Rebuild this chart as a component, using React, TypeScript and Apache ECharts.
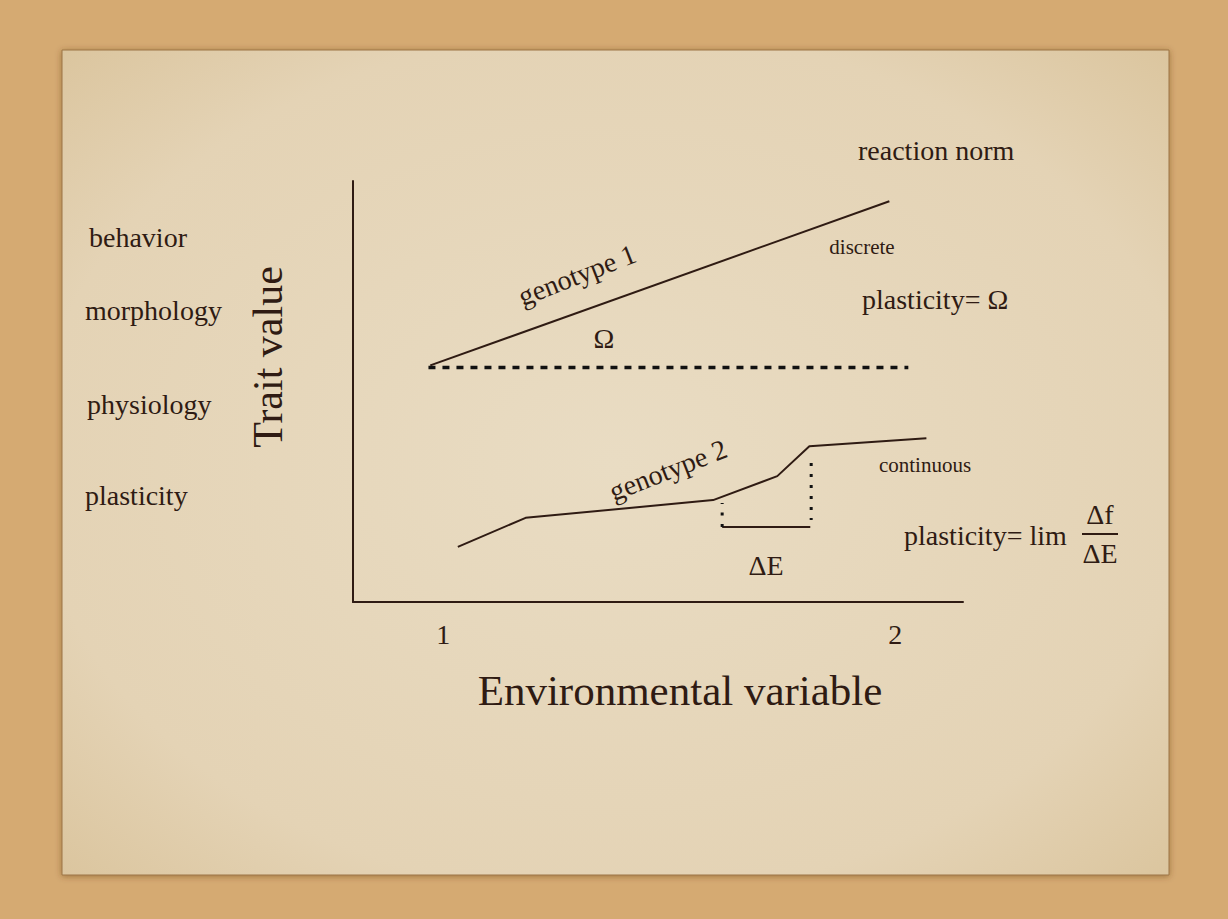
import React, { useEffect, useRef } from "react";
import * as echarts from "echarts";

// ---- data (environment value, trait value) ----
const genotype1Env = [0.971, 1.987];
const genotype1Trait = [5.62, 9.52];

const baselineEnv = [0.967, 2.029];
const baselineTrait = [5.57, 5.57];

const genotype2Env = [1.032, 1.182, 1.597, 1.739, 1.81, 2.069];
const genotype2Trait = [1.31, 2.0, 2.42, 2.99, 3.7, 3.89];

const deltaEEnv = [1.617, 1.812];
const deltaETrait = [1.78, 1.78];

const dotLeftEnv = [1.617, 1.617];
const dotLeftTrait = [1.78, 2.35];
const dotRightEnv = [1.814, 1.814];
const dotRightTrait = [3.3, 1.95];

const xTickValues = [1, 2];

const leftLabels = ["behavior", "morphology", "physiology", "plasticity"];
const leftLabelY = [237, 310, 404, 495];
const leftLabelX = [89, 85, 87, 85];

const FONT = '"Liberation Serif", "Times New Roman", Times, serif';
const INK = "#2f1b13";

const zip = (a: number[], b: number[]) => a.map((v, i) => [v, b[i]]);

export default function App() {
  const ref = useRef<HTMLDivElement>(null);
  useEffect(() => {
    const chart = echarts.init(ref.current!, null, { renderer: "svg" });
    const txt = (
      text: string,
      x: number,
      y: number,
      size: number,
      align: string = "left",
      rotation = 0
    ) => ({
      type: "text",
      x,
      y,
      rotation,
      z: 100,
      style: {
        text,
        fill: INK,
        font: `${size}px ${FONT}`,
        align,
        verticalAlign: "middle",
      },
    });
    const lineSeries = (name: string, xs: number[], ys: number[], style: any) => ({
      type: "line",
      name,
      data: zip(xs, ys),
      showSymbol: false,
      symbol: "none",
      silent: true,
      lineStyle: style,
      z: 5,
    });
    chart.setOption({
      animation: false,
      backgroundColor: "#d5aa72",
      grid: { left: 353, top: 181, width: 610, height: 421 },
      xAxis: {
        type: "value",
        min: 0.8,
        max: 2.15,
        axisLine: { show: true, lineStyle: { color: INK, width: 2 } },
        axisTick: { show: false },
        splitLine: { show: false },
        axisLabel: {
          customValues: xTickValues,
          color: INK,
          fontSize: 28,
          fontFamily: FONT,
          margin: 18,
        },
      },
      yAxis: {
        type: "value",
        min: 0,
        max: 10,
        axisLine: { show: true, onZero: false, lineStyle: { color: INK, width: 2 } },
        axisTick: { show: false },
        splitLine: { show: false },
        axisLabel: { show: false },
      },
      graphic: [
        {
          type: "rect",
          z: -10,
          shape: { x: 62, y: 50, width: 1107, height: 825 },
          style: {
            fill: {
              type: "radial",
              x: 0.5,
              y: 0.5,
              r: 0.75,
              colorStops: [
                { offset: 0, color: "#e9dcc3" },
                { offset: 0.7, color: "#e4d3b5" },
                { offset: 1, color: "#d9c299" },
              ],
            },
            stroke: "#9c7444",
            lineWidth: 1,
            shadowBlur: 6,
            shadowColor: "rgba(90,50,15,0.45)",
            shadowOffsetY: 1,
          },
        },
        ...leftLabels.map((t, i) => txt(t, leftLabelX[i], leftLabelY[i], 28)),
        txt("Trait value", 268, 357, 42, "center", Math.PI / 2),
        txt("Environmental variable", 680, 690, 43, "center"),
        txt("reaction norm", 858, 150, 28),
        txt("genotype 1", 577, 275, 28, "center", 0.37),
        txt("Ω", 604, 338, 28, "center"),
        txt("discrete", 862, 247, 21, "center"),
        txt("plasticity= Ω", 862, 299, 28),
        txt("genotype 2", 668, 470, 28, "center", 0.37),
        txt("continuous", 925, 465, 21, "center"),
        txt("ΔE", 766, 565, 28, "center"),
        txt("plasticity= lim", 904, 535, 28),
        txt("Δf", 1100, 514, 28, "center"),
        txt("ΔE", 1100, 553, 28, "center"),
        {
          type: "line",
          z: 100,
          shape: { x1: 1082, y1: 534, x2: 1118, y2: 534 },
          style: { stroke: INK, lineWidth: 2 },
        },
      ],
      series: [
        lineSeries("genotype 1", genotype1Env, genotype1Trait, { color: INK, width: 2 }),
        lineSeries("baseline", baselineEnv, baselineTrait, {
          color: "#111111",
          width: 3.5,
          type: [7, 7],
        }),
        lineSeries("genotype 2", genotype2Env, genotype2Trait, { color: INK, width: 2 }),
        lineSeries("ΔE", deltaEEnv, deltaETrait, { color: INK, width: 2 }),
        lineSeries("ΔE left", dotLeftEnv, dotLeftTrait, {
          color: "#111111",
          width: 3,
          type: [3, 8.5],
        }),
        lineSeries("ΔE right", dotRightEnv, dotRightTrait, {
          color: "#111111",
          width: 3,
          type: [3, 8],
        }),
      ],
    });
    return () => chart.dispose();
  }, []);
  return (
    <div
      ref={ref}
      style={{ position: "fixed", left: 0, top: 0, width: 1228, height: 919 }}
    />
  );
}
